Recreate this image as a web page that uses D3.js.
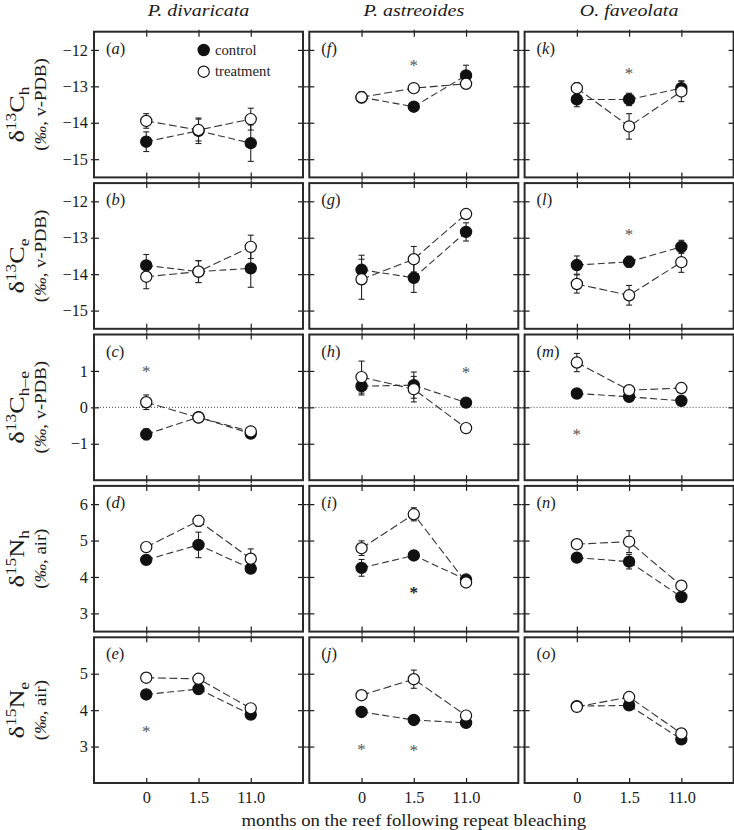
<!DOCTYPE html>
<html><head><meta charset="utf-8">
<script src="https://cdn.jsdelivr.net/npm/d3@7"></script>
<style>
body{margin:0;background:#fff;}
svg{display:block;}
</style></head>
<body><svg id="chart" width="734" height="830" font-family="Liberation Serif"></svg>
<script>
// ---------- data ----------
const species = ["P. divaricata", "P. astreoides", "O. faveolata"];
const months = ["0", "1.5", "11.0"];
const panelLetters = [["a","f","k"],["b","g","l"],["c","h","m"],["d","i","n"],["e","j","o"]];
const yDomains = [[-15.5,-11.5],[-15.5,-11.5],[-2,2],[2.5,6.5],[2,6]];
const yTicks = [[-15,-14,-13,-12],[-15,-14,-13,-12],[-1,0,1],[3,4,5,6],[3,4,5]];

// δ13C host
const c13hControl    = [[-14.52,-14.22,-14.56],[-13.30,-13.56,-12.70],[-13.36,-13.36,-13.05]];
const c13hControlErr = [[0.27,0.35,0.50],[0.12,0.12,0.28],[0.20,0.17,0.20]];
const c13hTreat      = [[-13.95,-14.20,-13.90],[-13.30,-13.05,-12.93],[-13.05,-14.10,-13.14]];
const c13hTreatErr   = [[0.20,0.30,0.30],[0.15,0.10,0.08],[0.15,0.35,0.28]];
// δ13C endosymbiont
const c13eControl    = [[-13.76,-13.93,-13.84],[-13.88,-14.10,-12.84],[-13.75,-13.66,-13.25]];
const c13eControlErr = [[0.30,0.30,0.52],[0.40,0.40,0.25],[0.25,0.15,0.18]];
const c13eTreat      = [[-14.07,-13.93,-13.25],[-14.14,-13.59,-12.35],[-14.27,-14.58,-13.67]];
const c13eTreatErr   = [[0.33,0.30,0.32],[0.55,0.35,0.08],[0.25,0.27,0.28]];
// δ13C host - endosymbiont
const c13heControl    = [[-0.74,-0.27,-0.72],[0.58,0.61,0.13],[0.38,0.29,0.18]];
const c13heControlErr = [[0.15,0.08,0.10],[0.24,0.36,0.08],[0.12,0.08,0.08]];
const c13heTreat      = [[0.14,-0.28,-0.66],[0.83,0.50,-0.57],[1.23,0.47,0.53]];
const c13heTreatErr   = [[0.20,0.08,0.08],[0.44,0.35,0.08],[0.25,0.10,0.10]];
// δ15N host
const n15hControl    = [[4.47,4.88,4.23],[4.25,4.59,3.93],[4.53,4.42,3.45]];
const n15hControlErr = [[0.10,0.35,0.08],[0.23,0.10,0.10],[0.10,0.20,0.08]];
const n15hTreat      = [[4.82,5.54,4.50],[4.79,5.72,3.85],[4.90,4.97,3.76]];
const n15hTreatErr   = [[0.12,0.15,0.27],[0.20,0.18,0.12],[0.08,0.30,0.08]];
// δ15N endosymbiont
const n15eControl    = [[4.43,4.58,3.88],[3.95,3.73,3.65],[4.11,4.13,3.20]];
const n15eControlErr = [[0.08,0.10,0.08],[0.08,0.08,0.08],[0.10,0.10,0.08]];
const n15eTreat      = [[4.89,4.86,4.05],[4.41,4.85,3.85],[4.09,4.36,3.36]];
const n15eTreatErr   = [[0.06,0.06,0.06],[0.06,0.25,0.10],[0.08,0.10,0.08]];

// significance asterisks: [row, col, monthIndex, value, bold]
const asterisks = [
  [0,1,1,-12.35,false],[0,2,1,-12.57,false],
  [1,2,1,-12.84,false],
  [2,0,0,1.05,false],[2,1,2,1.03,false],[2,2,0,-0.68,false],
  [3,1,1,3.64,true],
  [4,0,0,3.47,false],[4,1,0,3.0,false],[4,1,1,2.95,false]
];

const rowsControl = [c13hControl, c13eControl, c13heControl, n15hControl, n15eControl];
const rowsControlErr = [c13hControlErr, c13eControlErr, c13heControlErr, n15hControlErr, n15eControlErr];
const rowsTreat = [c13hTreat, c13eTreat, c13heTreat, n15hTreat, n15eTreat];
const rowsTreatErr = [c13hTreatErr, c13eTreatErr, c13heTreatErr, n15hTreatErr, n15eTreatErr];

// ---------- layout ----------
const FONT = "Liberation Serif";
const left0 = 94, colPitch = 215.3, panelW = 209;
const top0 = 31.7, rowPitch = 151.4, panelH = 145.7;
const ink = "#1a1a1a";

const svg = d3.select("#chart");
const x = d3.scaleLinear().domain([-1, 3]).range([0, panelW]);

// column titles
species.forEach((s, c) => {
  svg.append("text")
    .attr("transform", `translate(${left0 + c * colPitch + panelW / 2},16) scale(1.14,1)`)
    .attr("text-anchor", "middle")
    .attr("font-family", FONT)
    .attr("font-size", 17.5)
    .attr("font-style", "italic")
    .attr("fill", ink)
    .text(s);
});

for (let r = 0; r < 5; r++) {
  const y = d3.scaleLinear().domain(yDomains[r]).range([panelH, 0]);
  for (let c = 0; c < 3; c++) {
    const g = svg.append("g")
      .attr("transform", `translate(${left0 + c * colPitch},${top0 + r * rowPitch})`);

    // zero reference line
    if (r === 2) {
      g.append("line")
        .attr("x1", 0).attr("x2", panelW)
        .attr("y1", y(0)).attr("y2", y(0))
        .attr("stroke", "#444").attr("stroke-width", 1)
        .attr("stroke-dasharray", "1,2");
    }

    // axes: left
    const la = g.append("g").call(
      d3.axisLeft(y).tickValues(yTicks[r]).tickSizeInner(3).tickSizeOuter(0).tickPadding(3)
        .tickFormat(c === 0 ? d3.format("") : ""));
    la.attr("font-family", FONT);
    la.select(".domain").remove();
    la.selectAll(".tick line").attr("x1", 5).attr("stroke", ink).attr("stroke-width", 1.2);
    la.selectAll(".tick text").attr("font-size", 16.3).attr("fill", ink).attr("font-family", FONT);
    // right
    const ra = g.append("g").attr("transform", `translate(${panelW},0)`).call(
      d3.axisRight(y).tickValues(yTicks[r]).tickSizeInner(3).tickSizeOuter(0).tickFormat(""));
    ra.select(".domain").remove();
    ra.selectAll(".tick line").attr("x1", -5).attr("stroke", ink).attr("stroke-width", 1.2);
    // top
    const ta = g.append("g").call(
      d3.axisTop(x).tickValues([0, 1, 2]).tickSizeInner(2).tickSizeOuter(0).tickFormat(""));
    ta.select(".domain").remove();
    ta.selectAll(".tick line").attr("y1", 5).attr("stroke", ink).attr("stroke-width", 1.2);
    // bottom
    const ba = g.append("g").attr("transform", `translate(0,${panelH})`).call(
      d3.axisBottom(x).tickValues([0, 1, 2]).tickSizeInner(r === 4 ? 0 : 3).tickSizeOuter(0).tickPadding(8)
        .tickFormat(r === 4 ? (d => months[d]) : ""));
    ba.attr("font-family", FONT);
    ba.select(".domain").remove();
    ba.selectAll(".tick line").attr("y1", -5).attr("stroke", ink).attr("stroke-width", 1.2);
    ba.selectAll(".tick text").attr("font-size", 16.3).attr("fill", ink).attr("font-family", FONT);

    // frame
    g.append("rect")
      .attr("x", 0).attr("y", 0).attr("width", panelW).attr("height", panelH)
      .attr("fill", "none").attr("stroke", "#2a2a2a").attr("stroke-width", 2);

    // panel label
    const lab = g.append("text").attr("x", 12).attr("y", 22)
      .attr("font-family", FONT).attr("font-size", 16.5).attr("fill", ink);
    lab.append("tspan").text("(");
    lab.append("tspan").attr("font-style", "italic").text(panelLetters[r][c]);
    lab.append("tspan").text(")");

    const series = [
      {m: rowsControl[r][c], e: rowsControlErr[r][c], fill: "#111", dash: "7,3.5"},
      {m: rowsTreat[r][c], e: rowsTreatErr[r][c], fill: "#fff", dash: "8,3.5"}
    ];
    const line = d3.line().x((d, i) => x(i)).y(d => y(d));
    series.forEach(s => {
      g.append("path").datum(s.m).attr("d", line)
        .attr("fill", "none").attr("stroke", "#333").attr("stroke-width", 1.1)
        .attr("stroke-dasharray", s.dash);
    });
    series.forEach(s => {
      const eb = g.append("g").attr("stroke", "#222").attr("stroke-width", 1.1);
      s.m.forEach((v, i) => {
        const y1 = y(v - s.e[i]), y2 = y(v + s.e[i]), xx = x(i);
        eb.append("line").attr("x1", xx).attr("x2", xx).attr("y1", y1).attr("y2", y2);
        eb.append("line").attr("x1", xx - 3).attr("x2", xx + 3).attr("y1", y1).attr("y2", y1);
        eb.append("line").attr("x1", xx - 3).attr("x2", xx + 3).attr("y1", y2).attr("y2", y2);
      });
    });
    series.forEach(s => {
      g.selectAll(null).data(s.m).enter().append("circle")
        .attr("cx", (d, i) => x(i)).attr("cy", d => y(d)).attr("r", 5.6)
        .attr("fill", s.fill).attr("stroke", "#111").attr("stroke-width", 1.2);
    });

    // asterisks
    asterisks.filter(a => a[0] === r && a[1] === c).forEach(a => {
      g.append("text").attr("x", x(a[2])).attr("y", y(a[3]) + 8)
        .attr("text-anchor", "middle").attr("font-family", FONT).attr("font-size", 17)
        .attr("font-weight", a[4] ? "bold" : "normal")
        .attr("fill", a[4] ? "#222" : "#555").text("*");
    });

    // legend in first panel
    if (r === 0 && c === 0) {
      const legend = [{t: "control", fill: "#111"}, {t: "treatment", fill: "#fff"}];
      legend.forEach((L, i) => {
        g.append("circle").attr("cx", 109.7).attr("cy", 18.3 + i * 21.7).attr("r", 5.6)
          .attr("fill", L.fill).attr("stroke", "#111").attr("stroke-width", 1.2);
        g.append("text").attr("x", 121).attr("y", 23 + i * 21.7)
          .attr("font-family", FONT).attr("font-size", 14.7).attr("fill", ink).text(L.t);
      });
    }
  }

  // y-axis titles
  const cy = top0 + r * rowPitch + panelH / 2;
  const isC = r < 3;
  const sub = ["h", "e", "h\u2013e", "h", "e"][r];
  const iso = isC ? "13" : "15";
  const el = isC ? "C" : "N";
  const t1 = svg.append("text")
    .attr("transform", `translate(24,${cy + (r < 2 ? 10 : 0)}) rotate(-90) scale(1.25,1)`)
    .attr("text-anchor", "middle").attr("font-family", FONT).attr("font-size", 21).attr("fill", ink);
  t1.append("tspan").text("\u03B4");
  t1.append("tspan").attr("font-size", 14).attr("dy", -8).text(iso);
  t1.append("tspan").attr("dy", 8).text(el);
  t1.append("tspan").attr("font-size", 14).attr("dy", 5).text(sub);
  const t2 = svg.append("text")
    .attr("transform", `translate(46,${cy}) rotate(-90) scale(1.1,1)`)
    .attr("text-anchor", "middle").attr("font-family", FONT).attr("font-size", 17).attr("fill", ink);
  t2.append("tspan").text("(");
  t2.append("tspan").attr("font-style", "italic").text("\u2030");
  t2.append("tspan").text(isC ? ", v-PDB)" : ", air)");
}

// x-axis title
svg.append("text")
  .attr("transform", `translate(${left0 + colPitch + panelW / 2},826) scale(1.1,1)`)
  .attr("text-anchor", "middle").attr("font-family", FONT).attr("font-size", 17).attr("fill", ink)
  .text("months on the reef following repeat bleaching");
</script></body></html>
